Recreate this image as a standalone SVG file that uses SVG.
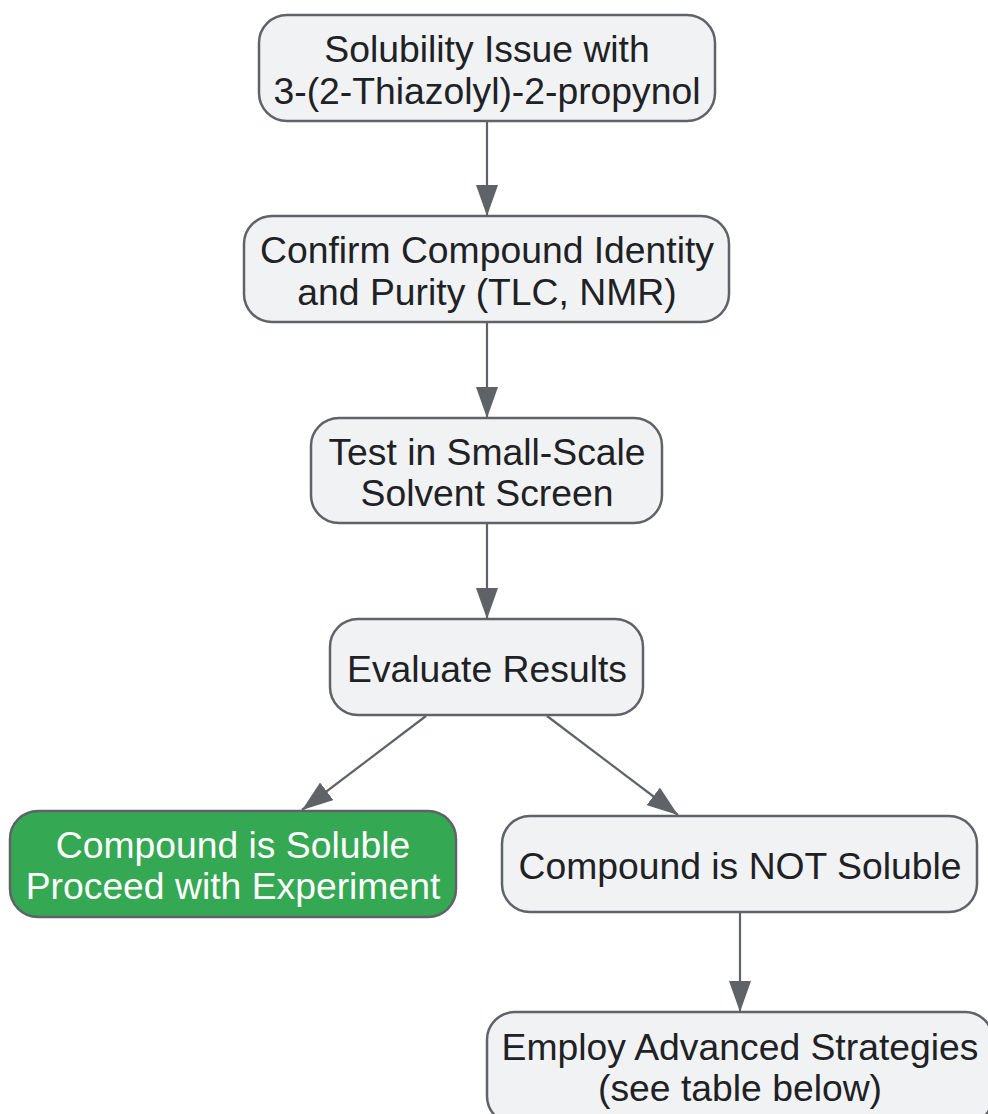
<svg xmlns="http://www.w3.org/2000/svg" width="988" height="1114" viewBox="0 0 988 1114">
<defs>
<style>
.box{fill:#f1f2f4;stroke:#5f6368;stroke-width:2.5}
.ok{fill:#34a853;stroke:#5f6368;stroke-width:2.5}
.t{font-family:"Liberation Sans",Arial,sans-serif;font-size:37.3px;fill:#202124;text-anchor:middle}
.tw{fill:#ffffff}
.edge{stroke:#5f6368;stroke-width:2.2;fill:none}
</style>
<marker id="ah" viewBox="0 0 31 22" refX="31" refY="11" markerWidth="31" markerHeight="22" markerUnits="userSpaceOnUse" orient="auto">
<path d="M0,0 L31,11 L0,22 z" fill="#5f6368"/>
</marker>
</defs>
<rect width="988" height="1114" fill="#ffffff"/>
<g id="edges">
<line class="edge" x1="487" y1="121" x2="487" y2="216" marker-end="url(#ah)"/>
<line class="edge" x1="487" y1="322" x2="487" y2="418" marker-end="url(#ah)"/>
<line class="edge" x1="487" y1="523" x2="487" y2="619" marker-end="url(#ah)"/>
<line class="edge" x1="426" y1="716" x2="302" y2="810" marker-end="url(#ah)"/>
<line class="edge" x1="547" y1="716" x2="678" y2="815" marker-end="url(#ah)"/>
<line class="edge" x1="740" y1="912" x2="740" y2="1012" marker-end="url(#ah)"/>
</g>
<g id="n1">
<rect class="box" x="259" y="15" width="456" height="106" rx="28"/>
<text class="t" x="487" y="62">Solubility Issue with</text>
<text class="t" x="487" y="104">3-(2-Thiazolyl)-2-propynol</text>
</g>
<g id="n2">
<rect class="box" x="244" y="216" width="485" height="106" rx="28"/>
<text class="t" x="487" y="263">Confirm Compound Identity</text>
<text class="t" x="487" y="305">and Purity (TLC, NMR)</text>
</g>
<g id="n3">
<rect class="box" x="311" y="418" width="351" height="105" rx="28"/>
<text class="t" x="487" y="465">Test in Small-Scale</text>
<text class="t" x="487" y="506">Solvent Screen</text>
</g>
<g id="n4">
<rect class="box" x="330" y="619" width="313" height="96" rx="28"/>
<text class="t" x="487" y="682">Evaluate Results</text>
</g>
<g id="n5">
<rect class="ok" x="10" y="811" width="446" height="106" rx="28"/>
<text class="t tw" x="233" y="858">Compound is Soluble</text>
<text class="t tw" x="233" y="899">Proceed with Experiment</text>
</g>
<g id="n6">
<rect class="box" x="502" y="816" width="475" height="96" rx="28"/>
<text class="t" x="740" y="879">Compound is NOT Soluble</text>
</g>
<g id="n7">
<rect class="box" x="487" y="1012" width="506" height="112" rx="28"/>
<text class="t" x="740" y="1060">Employ Advanced Strategies</text>
<text class="t" x="740" y="1101">(see table below)</text>
</g>
</svg>
